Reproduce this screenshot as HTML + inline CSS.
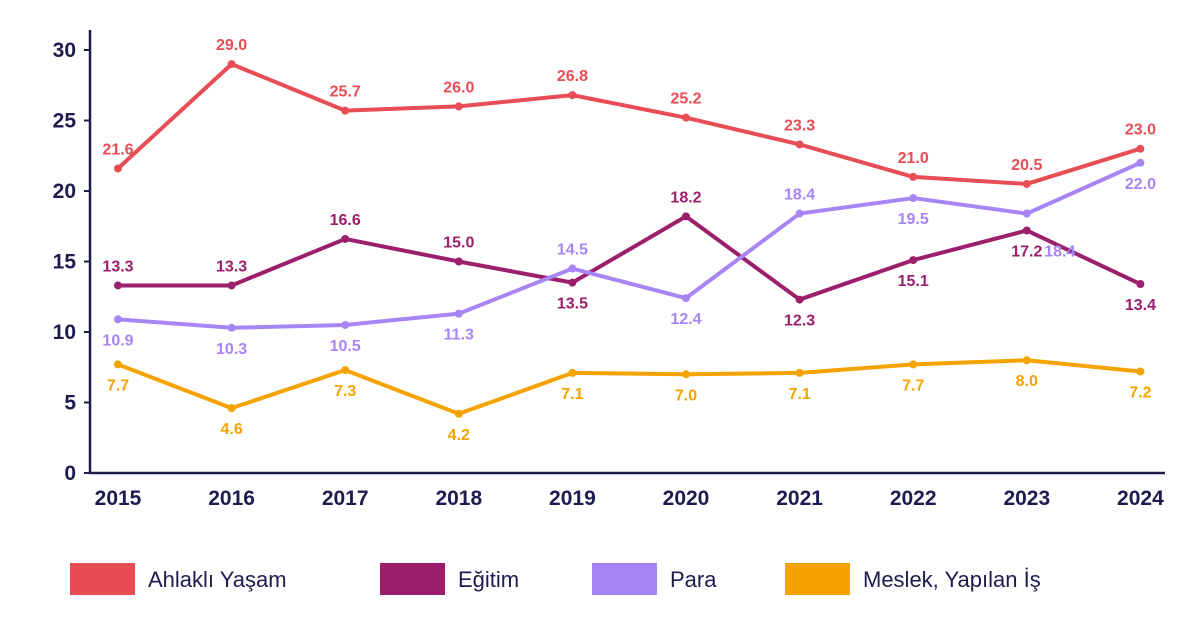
<!DOCTYPE html>
<html><head><meta charset="utf-8"><style>
body{margin:0;background:#fff;width:1200px;height:622px;overflow:hidden;font-family:"Liberation Sans",sans-serif}
</style></head><body>
<svg id="chart" width="1200" height="622" xmlns="http://www.w3.org/2000/svg"></svg>
<script>
const years=["2015","2016","2017","2018","2019","2020","2021","2022","2023","2024"];
const ahlakli=[21.6,29.0,25.7,26.0,26.8,25.2,23.3,21.0,20.5,23.0];
const egitim=[13.3,13.3,16.6,15.0,13.5,18.2,12.3,15.1,17.2,13.4];
const para=[10.9,10.3,10.5,11.3,14.5,12.4,18.4,19.5,18.4,22.0];
const meslek=[7.7,4.6,7.3,4.2,7.1,7.0,7.1,7.7,8.0,7.2];
const yTicks=[0,5,10,15,20,25,30];
const series=[
 {name:"ahlakli-yasam",label:"Ahlaklı Yaşam",color:"#e84c55",vals:ahlakli,pos:"aaaaaaaaaa"},
 {name:"egitim",label:"Eğitim",color:"#9b1f6b",vals:egitim,pos:"aaaababbbb"},
 {name:"para",label:"Para",color:"#a885f5",vals:para,pos:"bbbbabab" + "rb"},
 {name:"meslek",label:"Meslek, Yapılan İş",color:"#f5a300",vals:meslek,pos:"bbbbbbbbbb"}
];
const svg=document.getElementById('chart');const NS="http://www.w3.org/2000/svg";
const x=i=>118+i*113.6;const y=v=>473-v*14.1;
function mk(t,a,txt){const e=document.createElementNS(NS,t);for(const k in a)e.setAttribute(k,a[k]);if(txt!==undefined)e.textContent=txt;svg.appendChild(e);return e;}
const navy="#1c1c4f";
let ax=mk('path',{d:"M90,30 V473 H1165",stroke:navy,"stroke-width":2.5,fill:"none"});


yTicks.forEach(v=>{
 let t=mk('line',{x1:84,x2:90,y1:y(v),y2:y(v),stroke:navy,"stroke-width":2});
 
 
 let l=mk('text',{x:76,y:y(v)+7,"text-anchor":"end","font-size":21,"font-weight":"bold",fill:navy},v);
 
 
});
years.forEach((yr,i)=>{
 let l=mk('text',{x:x(i),y:505,"text-anchor":"middle","font-size":21,"font-weight":"bold",fill:navy},yr);
 
 
});
series.forEach(s=>{
 let p=mk('polyline',{points:s.vals.map((v,i)=>x(i)+","+y(v)).join(" "),stroke:s.color,"stroke-width":4,fill:"none","stroke-linejoin":"round"});
 
 
 s.vals.forEach((v,i)=>{
  let c=mk('circle',{cx:x(i),cy:y(v),r:4,fill:s.color});
  
  
  const ps=s.pos[i];
  let ly=ps==='a'?y(v)-14:(ps==='r'?y(v)+43:y(v)+26);
  let lx=ps==='r'?x(i)+33:x(i);
  let t=mk('text',{x:lx,y:ly,"text-anchor":"middle","font-size":16,"font-weight":"bold",fill:s.color},v.toFixed(1));
  
  
 });
});
const lx=[70,380,592,785];
series.forEach((s,i)=>{
 let r=mk('rect',{x:lx[i],y:563,width:65,height:32,fill:s.color});
 
 
 let t=mk('text',{x:lx[i]+78,y:587,"font-size":22,fill:navy},s.label);
 
 
});
</script>
</body></html>
